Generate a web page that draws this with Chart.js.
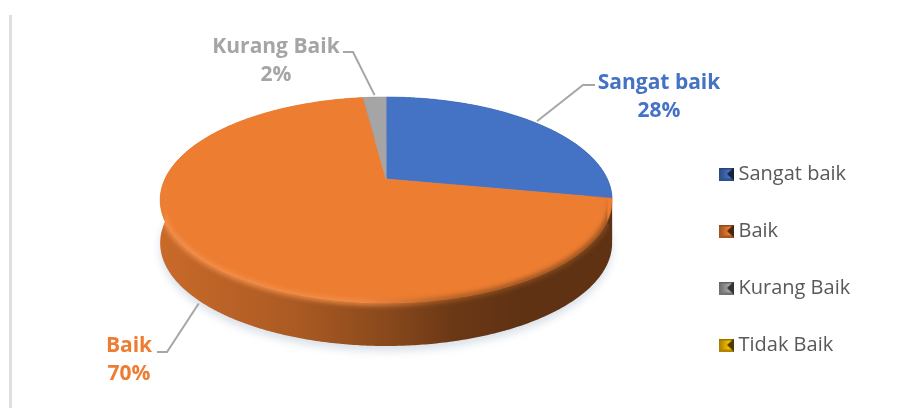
<!DOCTYPE html>
<html>
<head>
<meta charset="utf-8">
<title>Sangat baik / Baik / Kurang Baik / Tidak Baik</title>
<script src="https://cdn.jsdelivr.net/npm/chart.js@4"></script>
<style>
    html, body { margin: 0; padding: 0; background: #fff; }
    #wrap { position: relative; width: 914px; height: 408px; overflow: hidden; }
    #edge { position: absolute; left: 9px; top: 15px; width: 3px; bottom: 0; background: #dfdfdf; }
    canvas { position: absolute; left: 0; top: 0; }
</style>
</head>
<body>
<div id="wrap">
    <div id="edge"></div>
    <canvas id="pieChart" width="914" height="408"></canvas>
</div>
<script>
const categories = ['Sangat baik', 'Baik', 'Kurang Baik', 'Tidak Baik'];
const shares = [28, 70, 2, 0];
const sliceColors = ['#4472C4', '#ED7D31', '#A5A5A5', '#FFC000'];

// Callout text blocks: where each label sits and where its leader line bends
const calloutCentre = [[659, 82], [129, 345], [276, 46], null];
const calloutBend = [[[595, 85], [583, 85]], [[157, 352], [167, 352]], [[343, 52], [353, 52]], null];

// Tilted disc: the far edge is foreshortened, so the hub sits above the ellipse middle
const SPREAD_X = 1.309;
const SPREAD_Y = 0.584;
const TILT = -0.204;
const DEPTH = 43;

function project(arc, angle, drop) {
    const u = Math.cos(angle);
    const v = Math.sin(angle);
    const w = 1 + TILT * v;
    return [
        arc.x + SPREAD_X * arc.outerRadius * u / w,
        arc.y + SPREAD_Y * arc.outerRadius * v / w + drop
    ];
}

function traceRim(ctx, arc, from, to, drop, moveFirst) {
    const steps = Math.max(2, Math.ceil(Math.abs(to - from) / 0.01));
    for (let i = 0; i <= steps; i++) {
        const p = project(arc, from + (to - from) * i / steps, drop);
        if (i === 0 && moveFirst) ctx.moveTo(p[0], p[1]);
        else ctx.lineTo(p[0], p[1]);
    }
}

function shade(hex, f) {
    const n = parseInt(hex.slice(1), 16);
    const c = [n >> 16, (n >> 8) & 255, n & 255].map(x => Math.round(x * f));
    return `rgb(${c[0]},${c[1]},${c[2]})`;
}

// Wall gets darker from left to right, as if lit from the left
function wallGradient(ctx, color, left, right) {
    const g = ctx.createLinearGradient(left, 0, right, 0);
    [[0, 0.85], [0.3, 0.72], [0.5, 0.58], [0.65, 0.45], [0.8, 0.4], [1, 0.4]].forEach(s => {
        g.addColorStop(s[0], shade(color, s[1]));
    });
    return g;
}

// Little bevelled square for the legend
function bevelMarker(color) {
    const c = document.createElement('canvas');
    c.width = 15;
    c.height = 13;
    const m = c.getContext('2d');
    const body = m.createLinearGradient(0, 0, 10, 0);
    body.addColorStop(0, shade(color, 0.65));
    body.addColorStop(1, shade(color, 1));
    m.fillStyle = body;
    m.fillRect(0, 0, 15, 13);
    m.fillStyle = shade(color, 0.6);
    m.fillRect(0, 0, 15, 2);
    m.fillStyle = shade(color, 0.7);
    m.fillRect(0, 11, 15, 2);
    m.fillStyle = shade(color, 0.3);
    m.beginPath();
    m.moveTo(15, 0);
    m.lineTo(8, 6.5);
    m.lineTo(15, 13);
    m.fill();
    return c;
}

const discPlugin = {
    id: 'disc',
    afterLayout(chart) {
        // Legend column sits lower than the disc
        const legend = chart.legend;
        const h = legend.bottom - legend.top;
        const w = legend.right - legend.left;
        legend.left = 687.5;
        legend.right = 687.5 + w;
        legend.top = 127;
        legend.bottom = 127 + h;
    },
    beforeDatasetDraw(chart, args) {
        const ctx = chart.ctx;
        const arcs = args.meta.data;
        const first = arcs[0];
        const left = project(first, Math.PI, 0)[0] - 5;
        const right = project(first, 0, 0)[0] + 5;

        // 1. Soft shadow under the disc
        ctx.save();
        ctx.filter = 'blur(4px)';
        ctx.fillStyle = 'rgba(170,186,204,0.45)';
        ctx.beginPath();
        traceRim(ctx, first, 0, Math.PI * 2, DEPTH + 5, true);
        ctx.closePath();
        ctx.translate(3, 0);
        ctx.fill();
        ctx.restore();

        // 2. Side walls, then top faces
        arcs.forEach((arc, i) => {
            if (!shares[i]) return;
            ctx.beginPath();
            traceRim(ctx, arc, arc.startAngle, arc.endAngle, 0, true);
            traceRim(ctx, arc, arc.endAngle, arc.startAngle, DEPTH, false);
            ctx.closePath();
            ctx.fillStyle = wallGradient(ctx, sliceColors[i], left, right);
            ctx.fill();
        });
        arcs.forEach((arc, i) => {
            if (!shares[i]) return;
            ctx.beginPath();
            ctx.moveTo(arc.x, arc.y);
            traceRim(ctx, arc, arc.startAngle, arc.endAngle, 0, false);
            ctx.closePath();
            ctx.fillStyle = sliceColors[i];
            ctx.fill();
            ctx.strokeStyle = sliceColors[i];
            ctx.lineWidth = 0.6;
            ctx.stroke();
        });

        // 3. Rounded rim between top face and wall on the near side, kept inside the outline
        ctx.save();
        ctx.beginPath();
        traceRim(ctx, first, 0, Math.PI, DEPTH, true);
        traceRim(ctx, first, Math.PI, Math.PI * 2, 0, false);
        ctx.closePath();
        ctx.clip();
        ctx.filter = 'blur(2.5px)';
        const rim = ctx.createLinearGradient(left, 0, right, 0);
        rim.addColorStop(0, '#f49250');
        rim.addColorStop(0.45, '#f28e48');
        rim.addColorStop(0.62, '#a85c24');
        rim.addColorStop(0.8, '#8a4c1d');
        rim.addColorStop(1, '#8a4c1d');
        ctx.strokeStyle = rim;
        ctx.lineWidth = 5;
        ctx.beginPath();
        traceRim(ctx, first, first.endAngle, Math.PI * 0.98, 0, true);
        ctx.stroke();
        ctx.restore();

        return false;
    },
    afterDatasetsDraw(chart) {
        const ctx = chart.ctx;
        chart.getDatasetMeta(0).data.forEach((arc, i) => {
            if (!shares[i]) return;
            const mid = (arc.startAngle + arc.endAngle) / 2;
            const end = project(arc, mid, Math.sin(mid) > 0 ? DEPTH + 3 : -2);

            // Leader line
            ctx.beginPath();
            ctx.moveTo(calloutBend[i][0][0], calloutBend[i][0][1]);
            ctx.lineTo(calloutBend[i][1][0], calloutBend[i][1][1]);
            ctx.lineTo(end[0], end[1]);
            ctx.strokeStyle = '#A6A6A6';
            ctx.lineWidth = 2;
            ctx.stroke();

            // Category and percentage, two lines
            ctx.fillStyle = sliceColors[i];
            ctx.font = 'bold 21px "Open Sans"';
            ctx.textAlign = 'center';
            ctx.textBaseline = 'middle';
            ctx.fillText(categories[i], calloutCentre[i][0], calloutCentre[i][1] + 1);
            ctx.fillText(shares[i] + '%', calloutCentre[i][0], calloutCentre[i][1] + 29);
        });
    }
};

new Chart(document.getElementById('pieChart'), {
    type: 'pie',
    data: {
        labels: categories,
        datasets: [{
            data: shares,
            backgroundColor: sliceColors,
            borderWidth: 0
        }]
    },
    options: {
        responsive: false,
        animation: false,
        layout: { padding: { left: 100, top: 10, right: 69, bottom: 60 } },
        plugins: {
            tooltip: { enabled: false },
            legend: {
                position: 'right',
                align: 'start',
                labels: {
                    usePointStyle: true,
                    boxWidth: 4,
                    boxHeight: 8,
                    padding: 37,
                    color: '#595959',
                    font: { family: '"Open Sans"', size: 20 },
                    generateLabels: chart => categories.map((name, i) => ({
                        text: name,
                        fillStyle: sliceColors[i],
                        strokeStyle: sliceColors[i],
                        fontColor: '#595959',
                        pointStyle: bevelMarker(sliceColors[i]),
                        hidden: false,
                        index: i
                    }))
                }
            }
        }
    },
    plugins: [discPlugin]
});
</script>
</body>
</html>
